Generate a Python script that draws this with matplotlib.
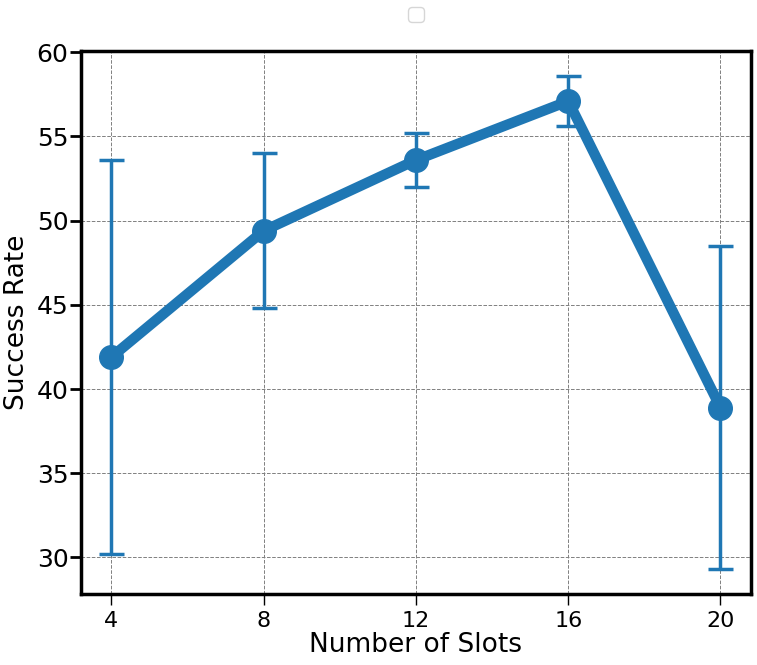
import numpy as np
import matplotlib.pyplot as plt

# slots vs success rate
slots = [4, 8, 12, 16, 20]
success = [41.9, 49.4, 53.6, 57.1, 38.9]
err = [11.7, 4.6, 1.6, 1.5, 9.6]

fig = plt.figure(figsize=(7.57, 6.65), dpi=100)
ax = fig.add_axes([0.107, 0.107, 0.885, 0.816])

ax.errorbar(slots, success, yerr=err, color="#1f77b4", linewidth=7.5,
            marker="o", markersize=17, elinewidth=2.5, capsize=9, capthick=2.5)

ax.set_xticks(slots)
ax.set_xlabel("Number of Slots", fontsize=19, labelpad=1)
ax.set_ylabel("Success Rate", fontsize=19, labelpad=5)
ax.tick_params(axis="y", labelsize=18, length=8, width=2, pad=1)
ax.tick_params(axis="x", labelsize=16, length=8, width=1, pad=4)
ax.grid(True, linestyle="--", color="gray", linewidth=0.7)
for s in ax.spines.values():
    s.set_linewidth(2.5)

ax.legend(handles=[], loc="upper center", bbox_to_anchor=(0.5, 1.1), fontsize=14)

fig.savefig("out.png", dpi=100)
